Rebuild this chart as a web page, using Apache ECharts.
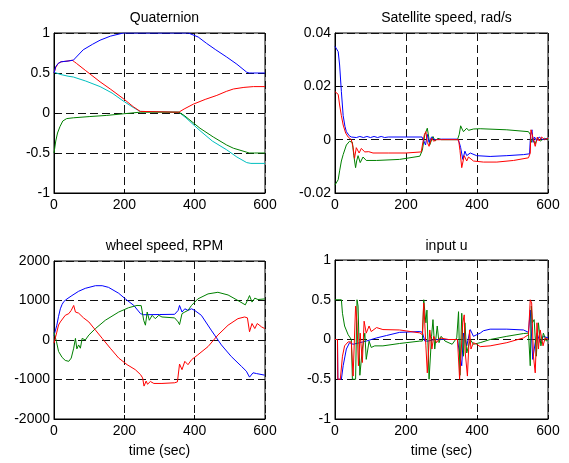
<!DOCTYPE html>
<html><head><meta charset="utf-8">
<script src="https://cdn.jsdelivr.net/npm/echarts@6/dist/echarts.min.js"></script>
<style>html,body{margin:0;padding:0;background:#fff}#c{width:569px;height:463px}</style>
</head><body><div id="c"></div>
<script>
// ---- titles / labels ----
const titles = ["Quaternion", "Satellite speed, rad/s", "wheel speed, RPM", "input u"];
const xName = "time (sec)";
const xTicks = [0, 200, 400, 600];
const yTicks1 = [-1, -0.5, 0, 0.5, 1];
const yTicks2 = [-0.02, 0, 0.02, 0.04];
const yTicks3 = [-2000, -1000, 0, 1000, 2000];
const yTicks4 = [-1, -0.5, 0, 0.5, 1];

// ---- Quaternion [t, value] ----
const quatBlue = [[0,0.5],[5,0.58],[12,0.62],[20,0.64],[40,0.65],[55,0.66],[83,0.79],[110,0.86],[131,0.91],[160,0.96],[197,1.0],[250,1.0],[382,1.0],[410,0.95],[434,0.87],[460,0.79],[491,0.70],[520,0.61],[548,0.51],[555,0.5],[560,0.51],[565,0.5],[570,0.51],[580,0.5],[600,0.5]];
const quatRed = [[0,0.5],[5,0.57],[12,0.62],[20,0.64],[40,0.65],[52,0.66],[58,0.64],[64,0.62],[90,0.53],[131,0.39],[160,0.30],[197,0.18],[225,0.08],[245,0.02],[250,0.01],[355,0.01],[370,0.05],[396,0.11],[430,0.17],[463,0.22],[490,0.27],[510,0.30],[540,0.32],[567,0.33],[600,0.33]];
const quatCyan = [[0,0.51],[20,0.48],[40,0.46],[55,0.45],[90,0.40],[131,0.33],[165,0.25],[197,0.15],[225,0.07],[245,0.02],[250,0.01],[355,0.01],[375,-0.06],[415,-0.22],[450,-0.35],[491,-0.46],[520,-0.55],[548,-0.62],[560,-0.63],[600,-0.63]];
const quatGreen = [[0,-0.5],[5,-0.35],[10,-0.25],[17,-0.17],[25,-0.1],[36,-0.07],[55,-0.06],[100,-0.045],[150,-0.03],[197,-0.01],[245,0.01],[355,0.01],[370,-0.03],[415,-0.19],[453,-0.30],[491,-0.40],[510,-0.44],[548,-0.49],[555,-0.5],[560,-0.49],[570,-0.5],[600,-0.5]];

// ---- Satellite speed [t, rad/s] ----
const satBlue = [[0,0.035],[5,0.035],[9,0.033],[13,0.028],[18,0.018],[23,0.009],[28,0.005],[32,0.003],[40,0.0015],[46,0.001],[60,0.0008],[70,0.0012],[80,0.0008],[90,0.0012],[100,0.0008],[110,0.0012],[120,0.0008],[130,0.0012],[140,0.0008],[150,0.001],[200,0.001],[245,0.001],[250,0.0005],[255,-0.002],[260,0.002],[265,-0.001],[272,0.001],[280,0],[300,0.0002],[345,0.0002],[350,-0.001],[354,-0.003],[360,-0.0074],[366,-0.0043],[371,-0.006],[376,-0.0065],[381,-0.005],[385,-0.0053],[399,-0.006],[437,-0.0063],[484,-0.006],[531,-0.0056],[548,-0.0053],[551,0.002],[555,0.0037],[558,-0.001],[562,0.001],[568,-0.0005],[575,0.001],[585,0],[600,0.0005]];
const satRed = [[0,0.018],[5,0.018],[9,0.017],[13,0.013],[18,0.009],[23,0.0055],[30,0.0025],[37,0.001],[46,0],[51,-0.003],[55,-0.007],[60,-0.003],[64,-0.0035],[68,-0.005],[74,-0.0033],[79,-0.004],[84,-0.0046],[95,-0.0045],[107,-0.005],[150,-0.005],[200,-0.005],[243,-0.0046],[248,-0.0006],[252,0.002],[256,0.003],[260,-0.001],[265,-0.0025],[272,0.0006],[278,-0.0006],[285,0],[300,0],[348,0],[352,-0.004],[357,-0.0105],[364,-0.006],[371,-0.008],[376,-0.0065],[381,-0.0065],[390,-0.008],[418,-0.0084],[456,-0.0084],[503,-0.0078],[545,-0.0068],[550,-0.005],[552,0.0037],[557,0.004],[560,-0.0005],[564,-0.0025],[570,0.001],[575,-0.0005],[582,0.001],[590,0],[600,0.0005]];
const satGreen = [[0,-0.017],[5,-0.017],[9,-0.015],[13,-0.0117],[18,-0.008],[23,-0.0056],[32,-0.002],[41,-0.0006],[49,-0.001],[53,-0.006],[58,-0.0105],[61,-0.008],[65,-0.006],[71,-0.0086],[79,-0.0065],[88,-0.0078],[117,-0.0078],[182,-0.0074],[239,-0.0062],[246,-0.004],[253,0.0019],[260,0.0043],[264,0.001],[267,-0.0019],[276,0.0012],[282,-0.0005],[290,0.0005],[300,0],[345,0],[350,0.002],[354,0.0052],[358,0.004],[362,0.003],[371,0.0043],[376,0.0035],[381,0.0033],[390,0.004],[409,0.0041],[484,0.0037],[545,0.003],[550,0.002],[553,-0.001],[557,0.0005],[564,-0.0015],[570,0.0005],[578,-0.0005],[590,0.0005],[600,0]];

// ---- Wheel speed [t, RPM] ----
const wheelBlue = [[0,110],[3,110],[8,375],[13,600],[18,790],[23,900],[28,975],[37,1040],[51,1125],[70,1233],[89,1308],[118,1375],[137,1375],[155,1333],[184,1183],[203,1040],[227,875],[246,667],[255,640],[300,645],[343,650],[353,750],[357,875],[364,708],[372,790],[381,750],[391,790],[400,750],[419,625],[447,250],[476,-125],[504,-417],[533,-667],[547,-790],[556,-940],[566,-830],[571,-880],[576,-850],[580,-875],[599,-890]];
const wheelRed = [[0,-80],[5,-80],[8,200],[13,380],[18,458],[32,625],[42,667],[49,750],[56,875],[61,708],[65,750],[70,680],[75,640],[84,560],[99,458],[118,250],[137,42],[160,-208],[184,-458],[208,-625],[231,-750],[246,-875],[252,-960],[256,-1167],[262,-1040],[266,-1120],[269,-1108],[274,-1050],[279,-1058],[284,-1100],[288,-1080],[307,-1100],[343,-1083],[351,-1060],[357,-608],[364,-750],[372,-540],[381,-625],[391,-500],[409,-375],[438,-167],[466,125],[495,375],[523,540],[542,583],[550,560],[556,208],[563,417],[571,290],[578,417],[590,333],[599,290]];
const wheelGreen = [[0,190],[5,190],[7,-40],[13,-290],[23,-440],[32,-517],[42,-540],[49,-458],[56,-208],[61,40],[65,-225],[70,-125],[75,-208],[80,40],[89,0],[99,125],[118,290],[146,500],[184,708],[212,817],[236,875],[248,870],[255,500],[260,375],[265,708],[271,500],[279,625],[288,540],[298,625],[307,583],[343,560],[353,458],[357,390],[364,667],[372,708],[381,750],[391,875],[409,1040],[438,1167],[466,1208],[495,1140],[523,1000],[544,890],[552,1040],[556,1125],[563,960],[571,1060],[580,1025],[599,1040]];

// ---- Input u [t, u] ----
const uGreen = [[0,0.5],[18,0.5],[21,0.33],[27,0.17],[37,0.06],[46,0],[49,-0.5],[58,-0.5],[62,0.5],[65,0.42],[70,-0.45],[77,-0.12],[84,0.08],[88,-0.25],[96,-0.02],[102,-0.1],[112,-0.08],[135,-0.08],[182,-0.05],[239,-0.02],[246,-0.02],[250,0.5],[256,0.21],[259,0.37],[265,-0.5],[272,0.04],[276,0.25],[281,-0.12],[288,0.17],[293,-0.04],[299,0.04],[310,-0.02],[330,-0.06],[343,0.02],[348,0.35],[352,-0.45],[357,0.33],[362,-0.21],[366,0.21],[371,-0.17],[381,0],[390,-0.06],[409,-0.04],[437,0],[484,0.04],[531,0.075],[545,0.08],[550,-0.33],[553,0.42],[556,0.21],[561,0.25],[567,-0.21],[573,0.21],[580,-0.08],[587,0.08],[595,-0.02],[600,0]];
const uRed = [[0,0],[7,0],[8,-0.5],[15,-0.5],[21,-0.21],[27,-0.08],[37,-0.03],[46,-0.03],[51,-0.46],[58,0.42],[62,0.21],[66,-0.33],[71,0.08],[77,-0.29],[82,0.23],[88,0.08],[96,0.17],[102,0.1],[117,0.15],[135,0.125],[182,0.12],[239,0.083],[246,0.06],[250,0.46],[256,-0.08],[260,-0.42],[267,0.12],[273,-0.12],[278,0.04],[286,-0.04],[295,0.02],[320,0],[345,0],[351,-0.5],[354,-0.5],[360,0.21],[364,0.31],[367,-0.17],[373,-0.46],[379,0.12],[383,-0.12],[390,-0.04],[399,-0.06],[409,-0.09],[437,-0.08],[484,-0.04],[531,0.02],[545,0.06],[550,0.5],[554,0.46],[559,-0.21],[564,-0.42],[569,0.21],[573,-0.12],[578,0.12],[586,-0.08],[592,0.02],[600,0]];
const uBlue = [[0,0],[7,0],[8,-0.5],[18,-0.5],[23,-0.33],[32,-0.12],[41,-0.04],[51,-0.06],[70,-0.04],[88,-0.02],[117,0.02],[145,0.05],[182,0.09],[239,0.1],[246,0.09],[253,-0.02],[262,-0.02],[280,0],[345,0],[352,-0.21],[357,-0.33],[362,0.08],[371,-0.08],[381,0.125],[390,0.04],[399,0.06],[409,0.08],[418,0.11],[437,0.13],[484,0.13],[531,0.12],[545,0.09],[550,0.37],[557,-0.25],[564,-0.04],[569,0.08],[578,-0.04],[587,0.04],[600,0.02]];

const FONT = "'Liberation Sans', Arial, sans-serif";
const BLUE = '#0000ff', RED = '#ff0000', GREEN = '#008000', CYAN = '#00bfbf';

const grids = [
  {left:54, top:33, width:211, height:160},
  {left:335, top:33, width:213, height:160},
  {left:54, top:261, width:211, height:158},
  {left:335, top:260, width:213, height:159}
].map(g => Object.assign({show:true, borderColor:'#000', borderWidth:1, backgroundColor:'#fff'}, g));

const splitStyle = {show:true, lineStyle:{color:'#111', width:1, type:[8,4]}};
function xAxis(i, named) {
  return {
    type:'value', gridIndex:i, min:xTicks[0], max:xTicks[xTicks.length-1], interval:200,
    axisLine:{show:true, onZero:false, lineStyle:{color:'#000'}},
    axisTick:{show:true, inside:true, length:4, lineStyle:{color:'#000'}},
    axisLabel:{color:'#000', fontSize:14, fontFamily:FONT, margin:5},
    splitLine:splitStyle,
    name: named ? xName : '', nameLocation:'middle', nameGap:25,
    nameTextStyle:{color:'#000', fontSize:14, fontFamily:FONT}
  };
}
function yAxis(i, ticks) {
  return {
    type:'value', gridIndex:i, min:ticks[0], max:ticks[ticks.length-1], interval:ticks[1]-ticks[0],
    axisLine:{show:true, onZero:false, lineStyle:{color:'#000'}},
    axisTick:{show:true, inside:true, length:4, lineStyle:{color:'#000'}},
    axisLabel:{color:'#000', fontSize:14, fontFamily:FONT, margin:4,
      formatter: v => String(Math.round(v*10000)/10000)},
    splitLine:splitStyle
  };
}
function line(i, data, color) {
  return {type:'line', xAxisIndex:i, yAxisIndex:i, data:data, showSymbol:false, symbol:'none',
    lineStyle:{color:color, width:1}, itemStyle:{color:color}, animation:false};
}
const centers = [159.5, 441.5, 159.5, 441.5];
const tops = [6, 6, 234, 234];
const option = {
  backgroundColor:'#fff',
  animation:false,
  title: titles.map((t,i) => ({text:t, left:centers[i], top:tops[i], textAlign:'center',
    textStyle:{color:'#000', fontSize:14, fontWeight:'normal', fontFamily:FONT}})),
  grid: grids,
  xAxis: [xAxis(0,false), xAxis(1,false), xAxis(2,true), xAxis(3,true)],
  yAxis: [yAxis(0,yTicks1), yAxis(1,yTicks2), yAxis(2,yTicks3), yAxis(3,yTicks4)],
  series: [
    line(0, quatCyan, CYAN), line(0, quatGreen, GREEN), line(0, quatRed, RED), line(0, quatBlue, BLUE),
    line(1, satGreen, GREEN), line(1, satBlue, BLUE), line(1, satRed, RED),
    line(2, wheelBlue, BLUE), line(2, wheelGreen, GREEN), line(2, wheelRed, RED),
    line(3, uBlue, BLUE), line(3, uGreen, GREEN), line(3, uRed, RED)
  ]
};
const chart = echarts.init(document.getElementById('c'), null, {renderer:'canvas'});
chart.setOption(option);
</script>
</body></html>
